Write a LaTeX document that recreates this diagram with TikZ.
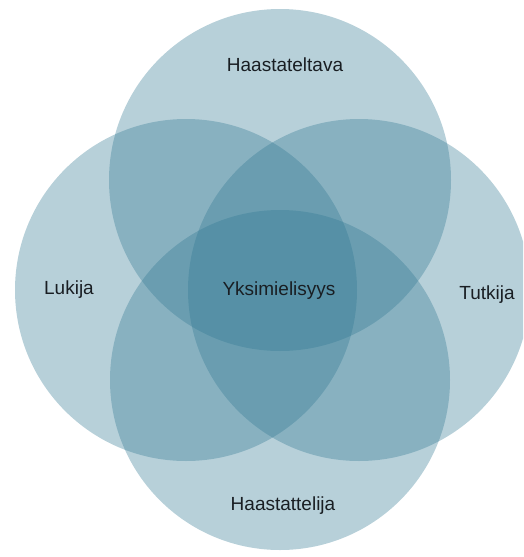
\documentclass[tikz,border=0pt]{standalone}
\usepackage{fontspec}
\setmainfont{Liberation Sans}
\definecolor{venn}{RGB}{49,120,146}
\definecolor{txt}{RGB}{25,30,35}
\begin{document}
\begin{tikzpicture}[x=1pt,y=-1pt,
  set/.style={fill=venn,fill opacity=0.35,draw=none},
  lbl/.style={anchor=base,text=txt,inner sep=0pt,font=\fontsize{19}{23}\selectfont}]
\useasboundingbox (0,0) rectangle (523,557);
\begin{scope}
\clip (0,0) rectangle (523,557);
\fill[set] (280,180) circle[radius=171];
\fill[set] (186,290) circle[radius=171];
\fill[set] (359,290) circle[radius=171];
\fill[set] (280,380) circle[radius=170];
\end{scope}
\node[lbl] (top) at (285,71) {Haastateltava};
\node[lbl] (left) at (69,294) {Lukija};
\node[lbl] (mid) at (279,295) {Yksimielisyys};
\node[lbl] (right) at (487,299) {Tutkija};
\node[lbl] (bottom) at (283,510) {Haastattelija};
\end{tikzpicture}
\end{document}
